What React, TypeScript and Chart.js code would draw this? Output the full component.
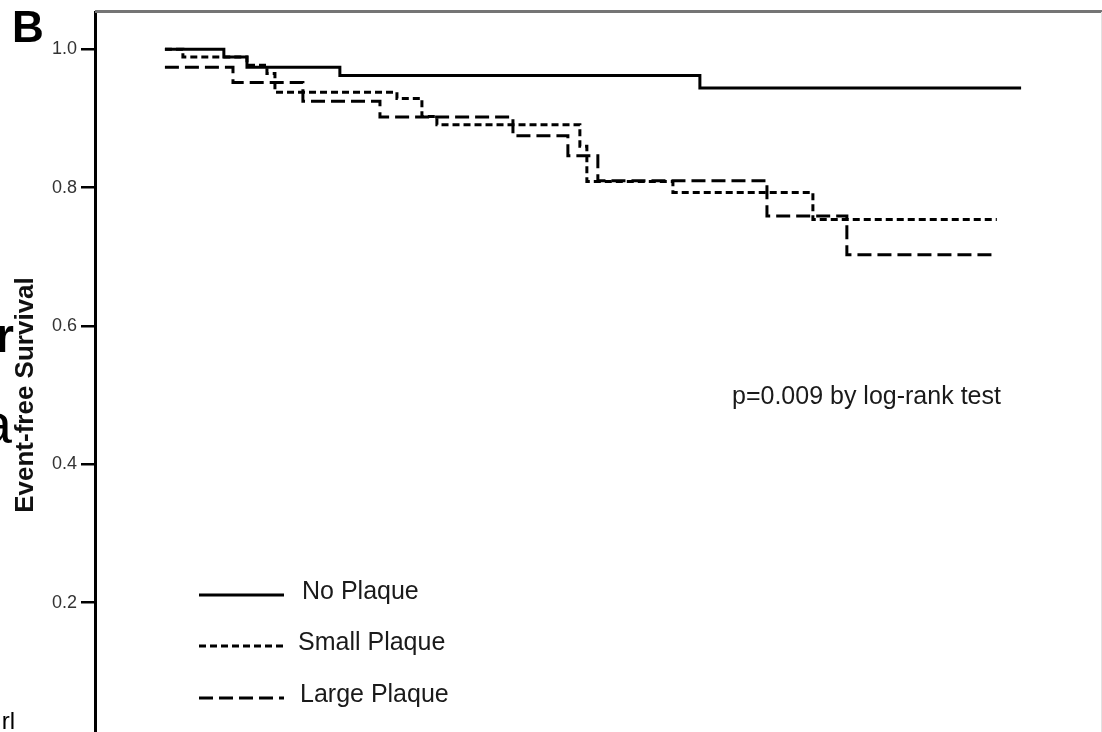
import React, { useEffect, useRef } from "react";
import { Chart, registerables } from "chart.js";

Chart.register(...registerables);

// ---- Data ----
// time in months (follow-up), survival probability
const noPlaqueTimes = [0, 4.13, 5.75, 12.26, 37.49, 60];
const noPlaqueSurv = [1.0, 0.989, 0.974, 0.962, 0.944, 0.944];

const smallTimes = [0, 1.26, 5.75, 7.15, 7.71, 16.26, 18.01, 19.06, 29.08, 29.57, 35.6, 45.41, 58.3];
const smallSurv = [1.0, 0.989, 0.977, 0.965, 0.938, 0.929, 0.903, 0.891, 0.86, 0.809, 0.793, 0.754, 0.754];

const largeTimes = [0, 4.77, 9.67, 15.07, 24.39, 28.24, 30.34, 42.19, 47.79, 57.95];
const largeSurv = [0.974, 0.952, 0.925, 0.902, 0.875, 0.846, 0.81, 0.759, 0.703, 0.703];

const seriesLabels = ["No Plaque", "Small Plaque", "Large Plaque"];
const seriesDashes: number[][] = [[], [7, 4], [14, 6]];
const yTicks = [0.2, 0.4, 0.6, 0.8, 1.0];
const yTitle = "Event-free Survival";
const pValueText = "p=0.009 by log-rank test";
const panelLabel = "B";

const FONT = '"Liberation Sans", Arial, Helvetica, sans-serif';

const toPoints = (t: number[], v: number[]) => t.map((x, i) => ({ x, y: v[i] }));

const decorPlugin = {
  id: "decor",
  afterDraw(chart: any) {
    const { ctx, chartArea } = chart;
    const { top, left, right, bottom } = chartArea;
    ctx.save();

    // top frame line (gray)
    ctx.strokeStyle = "#757575";
    ctx.lineWidth = 3;
    ctx.beginPath();
    ctx.moveTo(left, top - 0.5);
    ctx.lineTo(right + 1, top - 0.5);
    ctx.stroke();

    // faint right edge
    ctx.strokeStyle = "#e2e2e2";
    ctx.lineWidth = 1;
    ctx.beginPath();
    ctx.moveTo(right + 0.5, top);
    ctx.lineTo(right + 0.5, bottom);
    ctx.stroke();

    // legend
    const legendY = [595, 646, 698];
    const legendTextX = [302, 298, 300];
    ctx.fillStyle = "#1a1a1a";
    ctx.font = `25px ${FONT}`;
    ctx.textBaseline = "middle";
    ctx.textAlign = "left";
    seriesLabels.forEach((lab, i) => {
      ctx.strokeStyle = "#000";
      ctx.lineWidth = 3;
      ctx.setLineDash(seriesDashes[i]);
      ctx.beginPath();
      ctx.moveTo(199, legendY[i]);
      ctx.lineTo(284, legendY[i]);
      ctx.stroke();
      ctx.setLineDash([]);
      ctx.fillText(lab, legendTextX[i], legendY[i] - 3);
    });

    // p-value annotation
    ctx.textBaseline = "alphabetic";
    ctx.font = `25px ${FONT}`;
    ctx.fillText(pValueText, 732, 404);

    // y axis title (rotated)
    ctx.save();
    ctx.translate(33, 395);
    ctx.rotate(-Math.PI / 2);
    ctx.textAlign = "center";
    ctx.textBaseline = "alphabetic";
    ctx.font = `bold 26px ${FONT}`;
    ctx.fillStyle = "#111";
    ctx.fillText(yTitle, 0, 0);
    ctx.restore();

    // panel label
    ctx.fillStyle = "#000";
    ctx.font = `bold 44px ${FONT}`;
    ctx.textAlign = "left";
    ctx.fillText(panelLabel, 12, 42);

    // cropped fragments of neighbouring panel text
    ctx.textAlign = "right";
    ctx.font = `bold 48px ${FONT}`;
    ctx.fillText("r", 14, 352);
    ctx.font = `56px ${FONT}`;
    ctx.fillText("a", 12, 443);
    ctx.font = `24px ${FONT}`;
    ctx.fillText("rl", 15, 729);

    ctx.restore();
  },
};

export default function App() {
  const ref = useRef<HTMLCanvasElement | null>(null);

  useEffect(() => {
    if (!ref.current) return;
    const chart = new Chart(ref.current, {
      type: "line",
      data: {
        datasets: [
          {
            label: seriesLabels[0],
            data: toPoints(noPlaqueTimes, noPlaqueSurv),
            borderColor: "#000",
            borderWidth: 3,
            borderDash: seriesDashes[0],
            stepped: "before",
            pointRadius: 0,
            fill: false,
          },
          {
            label: seriesLabels[1],
            data: toPoints(smallTimes, smallSurv),
            borderColor: "#000",
            borderWidth: 3,
            borderDash: seriesDashes[1],
            stepped: "before",
            pointRadius: 0,
            fill: false,
          },
          {
            label: seriesLabels[2],
            data: toPoints(largeTimes, largeSurv),
            borderColor: "#000",
            borderWidth: 3,
            borderDash: seriesDashes[2],
            stepped: "before",
            pointRadius: 0,
            fill: false,
          },
        ],
      },
      options: {
        responsive: false,
        animation: false,
        devicePixelRatio: 1,
        layout: { padding: { top: 12, right: 1, bottom: 0, left: 0 } },
        plugins: {
          legend: { display: false },
          tooltip: { enabled: false },
          title: { display: false },
        },
        scales: {
          x: {
            type: "linear",
            min: -4.9,
            max: 65.6,
            display: false,
          },
          y: {
            type: "linear",
            min: 0.0131,
            max: 1.0539,
            afterBuildTicks: (scale: any) => {
              scale.ticks = yTicks.map((v) => ({ value: v }));
            },
            afterFit: (scale: any) => {
              scale.width = 95;
              scale.paddingTop = 0;
              scale.paddingBottom = 0;
            },
            border: { display: true, color: "#000", width: 3 },
            grid: {
              display: true,
              drawOnChartArea: false,
              drawTicks: true,
              tickLength: 14,
              color: "#000",
              lineWidth: 2.5,
            },
            ticks: {
              padding: 4,
              color: "#333",
              font: { family: FONT, size: 18 },
              callback: (v: any) => Number(v).toFixed(1),
            },
          },
        },
      },
      plugins: [decorPlugin],
    });
    return () => chart.destroy();
  }, []);

  return (
    <div style={{ position: "fixed", left: 0, top: 0, width: 1102, height: 732, background: "#fff" }}>
      <canvas ref={ref} width={1102} height={732} style={{ display: "block", width: 1102, height: 732 }} />
    </div>
  );
}
